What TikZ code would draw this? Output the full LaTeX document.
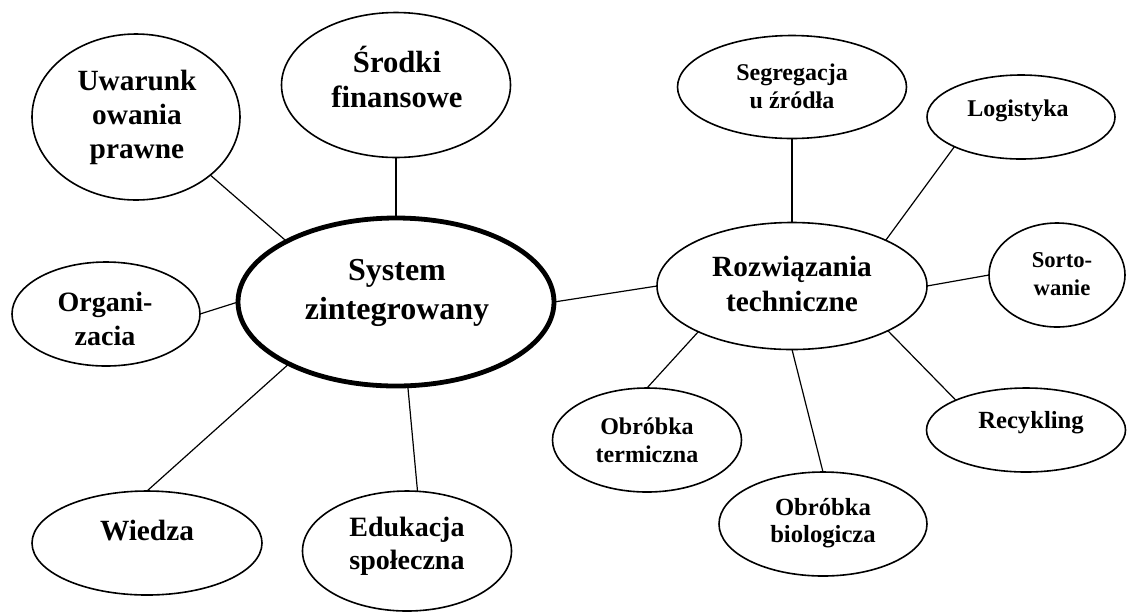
\documentclass[tikz,border=0pt]{standalone}
\usepackage{fontspec}
\setmainfont{Liberation Serif}
\usetikzlibrary{shapes.geometric}
\begin{document}
\begin{tikzpicture}[x=0.75pt,y=-0.75pt,
  ell/.style 2 args={ellipse,draw,line width=1.2pt,minimum width=#1*0.75pt,minimum height=#2*0.75pt,inner sep=0pt,outer sep=0pt},
  mainell/.style={line width=3.6pt},
  txt/.style 2 args={align=center,inner sep=0pt,font=\bfseries\fontsize{#1}{#2}\selectfont},
  conn/.style={line width=0.9pt}]
\useasboundingbox (0,0) rectangle (1127,612);
% ellipses
\node[ell={316}{168},mainell] (sys) at (396,302) {};
\node[ell={208}{166}] (uwa) at (136,117) {};
\node[ell={229}{145}] (sro) at (396,85) {};
\node[ell={188}{104}] (org) at (106,314) {};
\node[ell={230}{104}] (wie) at (147,543) {};
\node[ell={209}{120}] (edu) at (407,551) {};
\node[ell={270}{127}] (roz) at (792,286) {};
\node[ell={229}{103}] (seg) at (792,87) {};
\node[ell={188}{84}] (log) at (1021,117) {};
\node[ell={136}{104}] (sor) at (1057,275) {};
\node[ell={199}{84}] (rec) at (1026,430) {};
\node[ell={189}{104}] (ter) at (647,440) {};
\node[ell={208}{104}] (bio) at (823,524) {};
% texts
\node[txt={24}{29}] (sysT) at (397,293) {System\\zintegrowany};
\node[txt={22}{25.5}] (uwaT) at (137,117) {Uwarunk\\owania\\prawne};
\node[txt={23}{26}] (sroT) at (397,77) {Środki\\finansowe};
\node[txt={21}{25}] (orgT) at (105,319) {Organi-\\zacia};
\node[txt={22}{25}] (wieT) at (147,531) {Wiedza};
\node[txt={21}{25}] (eduT) at (407,546) {Edukacja\\społeczna};
\node[txt={22}{26}] (rozT) at (792,284) {Rozwiązania\\techniczne};
\node[txt={18}{21}] (segT) at (792,86) {Segregacja\\u źródła};
\node[txt={18}{21}] (logT) at (1018,111) {Logistyka};
\node[txt={17}{21}] (sorT) at (1062,274) {Sorto-\\wanie};
\node[txt={18.5}{21}] (recT) at (1031,423) {Recykling};
\node[txt={18}{21}] (terT) at (647,440) {Obróbka\\termiczna};
\node[txt={18.5}{20.5}] (bioT) at (823,523) {Obróbka\\biologicza};
% connectors
\draw[conn] (uwa.-38) -- (sys.151);
\draw[conn] (sro.south) -- (sys.north);
\draw[conn] (org.0) -- (sys.180);
\draw[conn] (sys.210) -- (wie.north);
\draw[conn] (sys.-82) -- (edu.80);
\draw[conn] (sys.0) -- (roz.180);
\draw[conn] (roz.north) -- (seg.south);
\draw[conn] (roz.26) -- (log.204);
\draw[conn] (roz.0) -- (sor.180);
\draw[conn] (roz.-25) -- (rec.157);
\draw[conn] (roz.south) -- (bio.north);
\draw[conn] (roz.206) -- (ter.north);
\end{tikzpicture}
\end{document}
